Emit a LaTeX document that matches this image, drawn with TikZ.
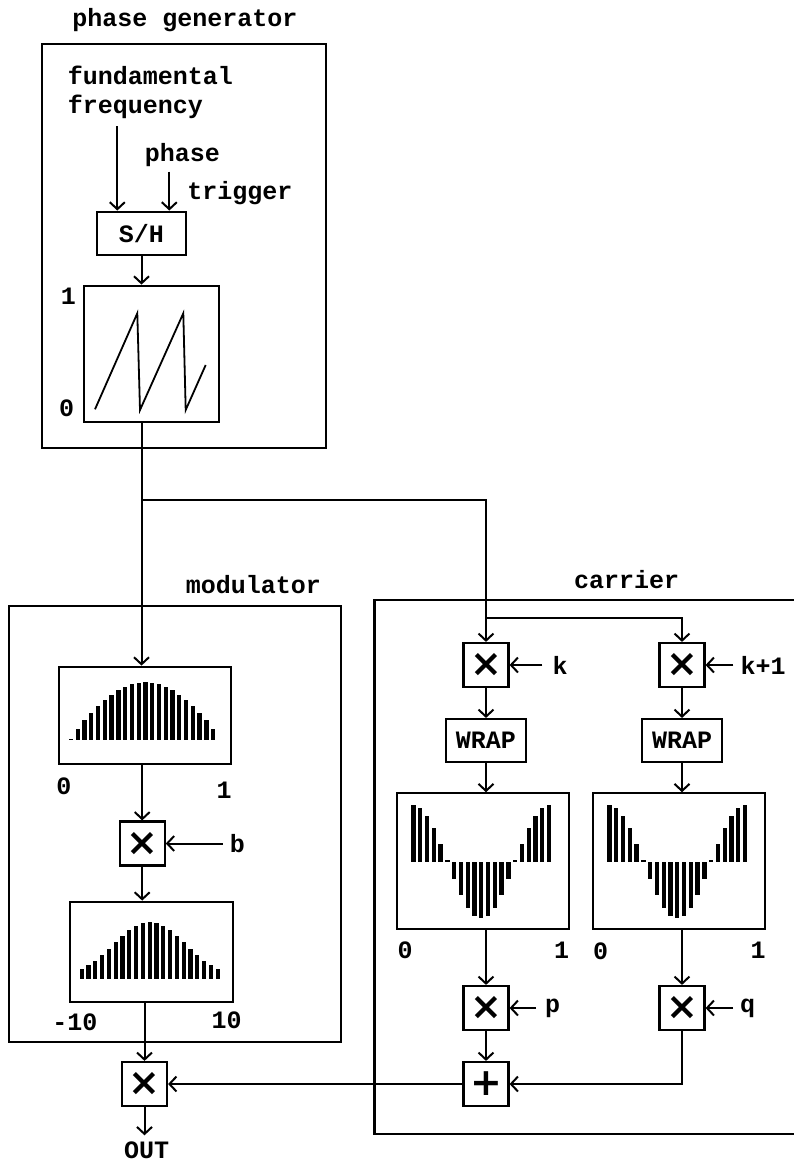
\documentclass[tikz,border=0pt]{standalone}
\usepackage{fontspec}
\setmonofont{Liberation Mono}
\newfontfamily\simbolos{DejaVu Sans}
\usepackage{tikz}
\usetikzlibrary{
    arrows.meta
}
\newcommand{\etiq}{\fontsize{25}{28.7}\selectfont\ttfamily\bfseries}
\newcommand{\oper}{\fontsize{38}{38}\selectfont\simbolos\bfseries}
\tikzset{
    >={Straight Barb[length=7pt,width=15pt]},
    etiqueta/.style={
        font=\etiq,
        inner sep=0pt
    },
    bloque/.style={
        draw,
        line width=2.2pt,
        inner sep=0pt,
        font=\etiq
    },
    op/.style={
        bloque,
        minimum width=45pt,
        minimum height=44pt,
        font=\oper
    },
    marco/.style={
        line width=2.2pt
    },
    flecha/.style={
        line width=2pt
    }
}

\begin{document}
\begin{tikzpicture}[
    x=1pt,
    y=-1pt
]
\useasboundingbox (0,0) rectangle (794,1163);

    % Marcos
    \draw[marco] (41.7,44.3) rectangle (325.7,448);
    \draw[marco] (9,606) rectangle (340.7,1041.7);
    \draw[marco] (794,600) -- (374.5,600) -- (374.5,1134) -- (794,1134);

    \node[etiqueta] (tgen) at (185,20)    {phase generator};
    \node[etiqueta] (tmod) at (253.3,585) {modulator};
    \node[etiqueta] (tcar) at (626.7,580) {carrier};

    % Generador de fase
    \node[etiqueta, align=left] (ff) at (150.5,92.3) {fundamental\\frequency};
    \node[etiqueta] (ph)  at (182.5,155)   {phase};
    \node[etiqueta] (tr)  at (240,192.7)   {trigger};
    \node[bloque, minimum width=88.4pt, minimum height=43.3pt]
                    (sh)  at (141.5,233.3) {S/H};
    \node[bloque, minimum width=135.3pt, minimum height=136pt]
                    (saw) at (151.7,353.7) {};
    \node[etiqueta] (saw1) at (68.3,296.7) {1};
    \node[etiqueta] (saw0) at (66.7,408.3) {0};
    \draw[line width=1.8pt] (95,409.3) -- (137.3,313.3) -- (140,410)
        -- (183.3,313.3) -- (185.7,410) -- (205.7,365);
    \coordinate (ffin) at (117.3,126);
    \coordinate (phin) at (169.3,171.7);

    % Modulador
    \node[bloque, minimum width=171.7pt, minimum height=97.6pt]
                    (mt1) at (144.8,715.5) {};
    \node[etiqueta] (mt1a) at (64,786.7)   {0};
    \node[etiqueta] (mt1b) at (224,790)    {1};
    \node[op]       (mb)   at (142.2,843.5) {×};
    \node[etiqueta] (lb)   at (237.3,843.5) {b};
    \node[bloque, minimum width=163pt, minimum height=100pt]
                    (mt2) at (151.2,951.7) {};
    \node[etiqueta] (mt2a) at (75,1022.3)  {-10};
    \node[etiqueta] (mt2b) at (226.7,1020.7) {10};
    \node[op]       (mout) at (144.5,1084)  {×};
    \node[etiqueta] (out)  at (146.7,1150)  {OUT};

    \foreach \i in {0,...,21} {
        \pgfmathsetmacro\h{max(57.7*pow(max(sin(180*\i/22),0.001),0.85),1.5)}
        \fill (68.85+6.77*\i,740) rectangle ++(4.3,-\h);
    }
    \foreach \i in {0,...,20} {
        \pgfmathsetmacro\h{57.3*exp(-((\i-10)/7.5)^2)}
        \fill (79.55+6.8*\i,979) rectangle ++(4.3,-\h);
    }

    % Portadora
    \coordinate (rama) at (486,500);
    \coordinate (bif)  at (486,617.7);
    \node[op]       (mk)  at (486,665)     {×};
    \node[etiqueta] (lk)  at (560,665)     {k};
    \node[op]       (mk1) at (682,665)     {×};
    \node[etiqueta] (lk1) at (763,665)     {k+1};
    \node[bloque, minimum width=80pt, minimum height=43.3pt]
                    (wr1) at (486,740.7)   {WRAP};
    \node[bloque, minimum width=80pt, minimum height=43.3pt]
                    (wr2) at (682,740.7)   {WRAP};
    \node[bloque, minimum width=171.7pt, minimum height=135.7pt]
                    (ct1) at (483.2,861.2) {};
    \node[bloque, minimum width=171.7pt, minimum height=135.7pt]
                    (ct2) at (679.2,861.2) {};
    \node[etiqueta] (ct1a) at (405,950)    {0};
    \node[etiqueta] (ct1b) at (561.7,950)  {1};
    \node[etiqueta] (ct2a) at (600.7,951.7) {0};
    \node[etiqueta] (ct2b) at (758,950)    {1};
    \node[op]       (mp)  at (486,1008)    {×};
    \node[etiqueta] (lp)  at (552.7,1008)  {p};
    \node[op]       (mq)  at (682,1008)    {×};
    \node[etiqueta] (lq)  at (747.7,1008)  {q};
    \node[op]       (sum) at (486,1084)    {+};

    \foreach \c in {0,196} {
        \foreach \i in {0,...,20} {
            \pgfmathsetmacro\h{56.7*cos(18*\i)}
            \pgfmathsetmacro\h{ifthenelse(abs(\h)<1.5,2,\h)}
            \fill (411.35+\c+6.78*\i,861.7) rectangle ++(4.3,-\h);
        }
    }

    % Conexiones
    \path[->, flecha]
        (ffin) edge (ffin |- sh.north)
        (phin) edge (phin |- sh.north)
        (sh)   edge (sh |- saw.north)
        (saw.south -| sh) edge (mt1.north -| sh)
        (mt1.south -| mb) edge (mb)
        (lb)   edge[shorten <=7pt] (mb)
        (mb)   edge (mb |- mt2.north)
        (mt2.south -| mout) edge (mout)
        (mout) edge[shorten >=6pt] (mout |- out.north)
        (bif)  edge (mk)
        (lk)   edge[shorten <=10pt] (mk)
        (lk1)  edge[shorten <=7pt] (mk1)
        (mk)   edge (wr1)
        (mk1)  edge (wr2)
        (wr1)  edge (wr1 |- ct1.north)
        (wr2)  edge (wr2 |- ct2.north)
        (ct1.south -| mp) edge (mp)
        (ct2.south -| mq) edge (mq)
        (lp)   edge[shorten <=9pt] (mp)
        (lq)   edge[shorten <=7pt] (mq)
        (mp)   edge (sum)
        (sum)  edge (mout);
    \draw[flecha] (sh |- rama) -- (rama) -- (bif);
    \draw[->, flecha] (bif) -| (mk1);
    \draw[->, flecha] (mq) |- (sum);

\end{tikzpicture}
\end{document}
